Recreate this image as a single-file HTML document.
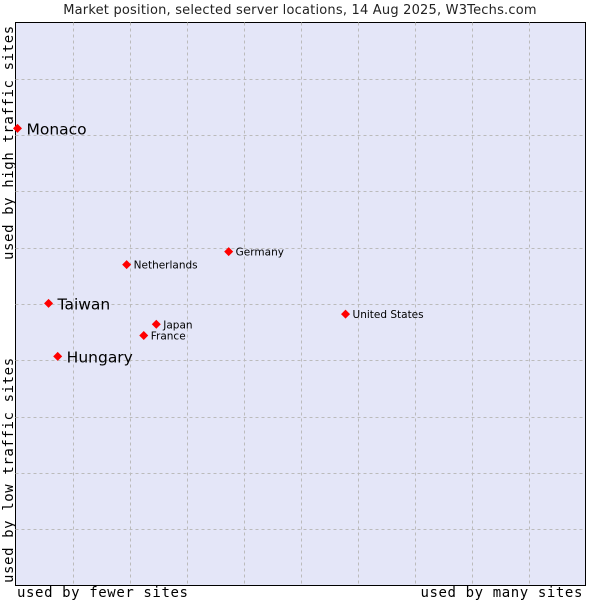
<!DOCTYPE html>
<html><head><meta charset="utf-8"><style>
body{margin:0;background:#fff;width:600px;height:600px;overflow:hidden}
svg{display:block;font-family:"DejaVu Sans","Liberation Sans",sans-serif}
.mono{font-family:"DejaVu Sans Mono","Liberation Mono",monospace;letter-spacing:0.6px}
</style></head><body>
<svg id="chart" width="600" height="600">
<text x="300" y="14" text-anchor="middle" font-size="13" letter-spacing="0.2" fill="#222">Market position, selected server locations, 14 Aug 2025, W3Techs.com</text>
<rect x="15.5" y="22.5" width="570" height="563" fill="#e4e6f8" stroke="#000"/>
<g id="grid"></g>
<g id="points"></g>
<text class="mono" x="17" y="597" font-size="14" fill="#000">used by fewer sites</text>
<text class="mono" x="583" y="597" font-size="14" text-anchor="end" fill="#000">used by many sites</text>
<text class="mono" transform="translate(13,583) rotate(-90)" font-size="14" fill="#000">used by low traffic sites</text>
<text class="mono" transform="translate(13,260) rotate(-90)" font-size="14" fill="#000">used by high traffic sites</text>
</svg>
<script>
const names=["Monaco","Taiwan","Hungary","Netherlands","Germany","Japan","France","United States"];
const xValues=[0.35,5.8,7.4,19.5,37.4,24.7,22.5,57.9];
const yValues=[81.2,50.1,40.7,57.0,59.3,46.4,44.4,48.2];
const bigLabel=[true,true,true,false,false,false,false,false];
const L=15.5,T=22.5,W=570,H=563;
const sx=v=>L+v/100*W, sy=v=>T+H-v/100*H;
const NS="http://www.w3.org/2000/svg";
const g=document.getElementById('grid');
for(let i=1;i<10;i++){
  const v=document.createElementNS(NS,'line');
  
  
  const x=Math.round(sx(i*10))+0.5;
  v.setAttribute('x1',x);v.setAttribute('x2',x);v.setAttribute('y1',T);v.setAttribute('y2',T+H);
  v.setAttribute('stroke','#bbb');v.setAttribute('stroke-dasharray','3,3');g.appendChild(v);
  const h=document.createElementNS(NS,'line');
  
  
  const y=Math.round(sy(i*10))+0.5;
  h.setAttribute('x1',L);h.setAttribute('x2',L+W);h.setAttribute('y1',y);h.setAttribute('y2',y);
  h.setAttribute('stroke','#bbb');h.setAttribute('stroke-dasharray','3,3');g.appendChild(h);
}
const p=document.getElementById('points');
names.forEach((n,i)=>{
  const x=sx(xValues[i]),y=sy(yValues[i]);
  const d=document.createElementNS(NS,'path');
  
  
  d.setAttribute('d',`M${x-4.5},${y}L${x},${y-4.5}L${x+4.5},${y}L${x},${y+4.5}Z`);
  d.setAttribute('fill','#f00');p.appendChild(d);
  const t=document.createElementNS(NS,'text');
  
  
  t.setAttribute('x',x+(bigLabel[i]?9:7));
  t.setAttribute('y',y+(bigLabel[i]?6:4));
  t.setAttribute('font-size',bigLabel[i]?15.5:10.5);
  t.setAttribute('fill','#000');
  t.textContent=n;p.appendChild(t);
});
</script>
</body></html>
